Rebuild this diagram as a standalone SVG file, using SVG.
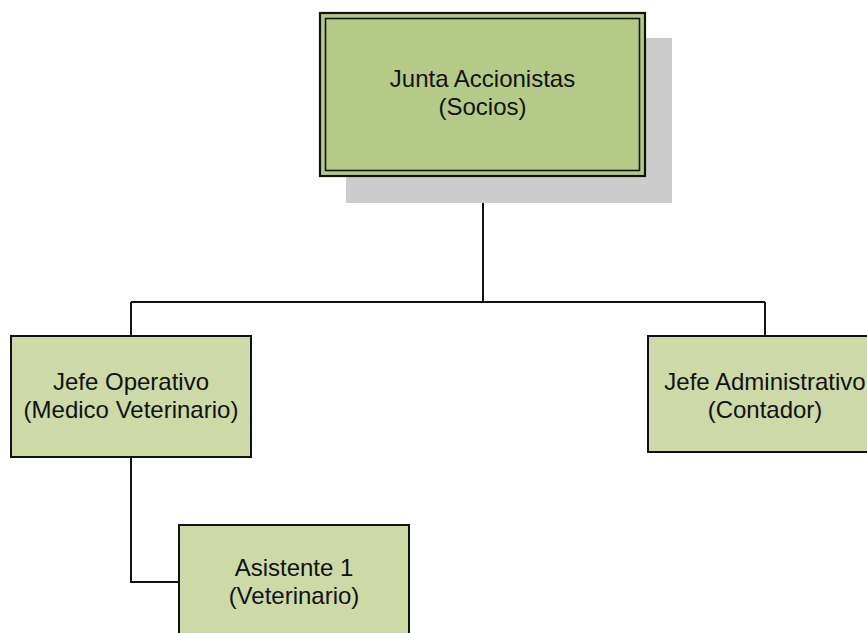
<svg xmlns="http://www.w3.org/2000/svg" width="867" height="633" viewBox="0 0 867 633">
<style>
.box{fill:#cddaa8;stroke:#111;stroke-width:2}
.top{fill:#b6ca88;stroke:#111;stroke-width:2.2}
.inner{fill:none;stroke:#111;stroke-width:1.6}
.lbl{font-family:"Liberation Sans",Arial,sans-serif;font-size:24px;fill:#111;text-anchor:middle}
.conn{fill:none;stroke:#111;stroke-width:2}
</style>
<rect x="0" y="0" width="867" height="633" fill="#fff"/>
<g id="connectors">
<path class="conn" d="M483,176 V302 M131,302 H765 M131,302 V336 M765,302 V336"/>
<path class="conn" d="M131,457 V582 H179"/>
</g>
<g id="junta">
<rect x="346" y="38" width="326" height="165" fill="#cccccc"/>
<rect class="top" x="320" y="13" width="325" height="163"/>
<rect class="inner" x="325.5" y="18.5" width="314" height="152"/>
<text class="lbl" x="482.5" y="87">Junta Accionistas</text>
<text class="lbl" x="482.5" y="115">(Socios)</text>
</g>
<g id="jefe-operativo">
<rect class="box" x="11" y="336" width="240" height="121"/>
<text class="lbl" x="131" y="390">Jefe Operativo</text>
<text class="lbl" x="131" y="418">(Medico Veterinario)</text>
</g>
<g id="jefe-administrativo">
<rect class="box" x="648" y="336" width="234" height="116"/>
<text class="lbl" x="765" y="390">Jefe Administrativo</text>
<text class="lbl" x="765" y="418">(Contador)</text>
</g>
<g id="asistente">
<rect class="box" x="179" y="525" width="230" height="130"/>
<text class="lbl" x="294" y="576">Asistente 1</text>
<text class="lbl" x="294" y="604">(Veterinario)</text>
</g>
</svg>
